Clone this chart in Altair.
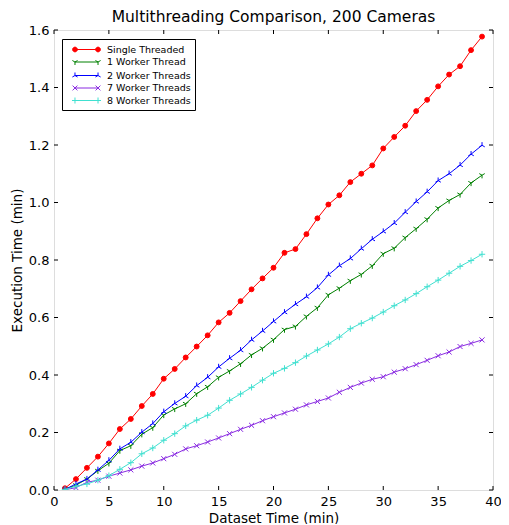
import math
import altair as alt
import pandas as pd

# ---- data ----
dataset_time = [1, 2, 3, 4, 5, 6, 7, 8, 9, 10, 11, 12, 13, 14, 15, 16, 17, 18, 19, 20,
                21, 22, 23, 24, 25, 26, 27, 28, 29, 30, 31, 32, 33, 34, 35, 36, 37, 38, 39]

single_threaded = [0.006, 0.038, 0.077, 0.116, 0.162, 0.212, 0.247, 0.292, 0.334, 0.387,
                   0.421, 0.461, 0.499, 0.538, 0.583, 0.616, 0.657, 0.698, 0.736, 0.773,
                   0.825, 0.838, 0.890, 0.945, 0.993, 1.025, 1.071, 1.100, 1.129, 1.188,
                   1.228, 1.267, 1.318, 1.357, 1.404, 1.445, 1.474, 1.530, 1.577]
one_worker = [0.003, 0.017, 0.038, 0.067, 0.093, 0.137, 0.154, 0.194, 0.217, 0.261,
              0.282, 0.300, 0.335, 0.359, 0.392, 0.414, 0.439, 0.470, 0.493, 0.523,
              0.558, 0.569, 0.604, 0.634, 0.679, 0.702, 0.728, 0.750, 0.780, 0.822,
              0.841, 0.878, 0.909, 0.942, 0.981, 1.007, 1.028, 1.068, 1.095]
two_workers = [0.002, 0.021, 0.038, 0.070, 0.103, 0.143, 0.166, 0.201, 0.231, 0.272,
               0.301, 0.326, 0.363, 0.392, 0.428, 0.458, 0.486, 0.522, 0.553, 0.586,
               0.618, 0.646, 0.672, 0.704, 0.748, 0.780, 0.805, 0.839, 0.872, 0.899,
               0.928, 0.966, 1.003, 1.037, 1.076, 1.100, 1.130, 1.168, 1.199]
seven_workers = [0.001, 0.008, 0.027, 0.034, 0.048, 0.059, 0.070, 0.083, 0.094, 0.109,
                 0.124, 0.143, 0.154, 0.167, 0.181, 0.196, 0.211, 0.225, 0.241, 0.255,
                 0.268, 0.281, 0.296, 0.308, 0.320, 0.340, 0.357, 0.372, 0.385, 0.394,
                 0.410, 0.422, 0.436, 0.451, 0.467, 0.480, 0.499, 0.510, 0.522]
eight_workers = [0.002, 0.013, 0.021, 0.034, 0.050, 0.072, 0.095, 0.126, 0.146, 0.173,
                 0.196, 0.223, 0.243, 0.260, 0.285, 0.312, 0.334, 0.357, 0.382, 0.406,
                 0.423, 0.443, 0.466, 0.487, 0.508, 0.532, 0.561, 0.580, 0.598, 0.619,
                 0.641, 0.661, 0.683, 0.707, 0.730, 0.754, 0.778, 0.798, 0.820]

series_names = ["Single Threaded", "1 Worker Thread", "2 Worker Threads",
                "7 Worker Threads", "8 Worker Threads"]
series_values = [single_threaded, one_worker, two_workers, seven_workers, eight_workers]
series_colors = ["#ff0000", "#008000", "#0000ff", "#8a2be2", "#40e0d0"]

x_ticks = [0, 5, 10, 15, 20, 25, 30, 35, 40]
y_ticks = [0.0, 0.2, 0.4, 0.6, 0.8, 1.0, 1.2, 1.4, 1.6]

# ---- marker shapes (unit-square SVG paths) ----
def poly_circle(cx, r, n=12):
    pts = [(cx + r * math.cos(2 * math.pi * k / n), r * math.sin(2 * math.pi * k / n)) for k in range(n)]
    return "M" + "L".join(f"{a:.3f},{b:.3f}" for a, b in pts) + "Z"

def tri_down(cx, r):
    return (f"M{cx},0L{cx},{r}M{cx},0L{cx - 0.866 * r:.3f},{-0.5 * r:.3f}"
            f"M{cx},0L{cx + 0.866 * r:.3f},{-0.5 * r:.3f}")

def tri_up(cx, r):
    return (f"M{cx},0L{cx},{-r}M{cx},0L{cx - 0.866 * r:.3f},{0.5 * r:.3f}"
            f"M{cx},0L{cx + 0.866 * r:.3f},{0.5 * r:.3f}")

def cross_x(cx, r):
    return f"M{cx - r:.3f},{-r:.3f}L{cx + r:.3f},{r:.3f}M{cx - r:.3f},{r:.3f}L{cx + r:.3f},{-r:.3f}"

def plus(cx, r):
    return f"M{cx - r:.3f},0L{cx + r:.3f},0M{cx},{-r:.3f}L{cx},{r:.3f}"

plot_shapes = ["circle", tri_down(0, 1), tri_up(0, 1), cross_x(0, 0.8), plus(0, 1)]
plot_sizes = [24, 40, 40, 40, 40]

L = 1.92
mr = 0.5
legend_line = f"M{-L},0L{L},0"
legend_shapes = [
    legend_line + poly_circle(-L, mr * 0.8) + poly_circle(L, mr * 0.8),
    legend_line + tri_down(-L, mr) + tri_down(L, mr),
    legend_line + tri_up(-L, mr) + tri_up(L, mr),
    legend_line + cross_x(-L, mr * 0.8) + cross_x(L, mr * 0.8),
    legend_line + plus(-L, mr) + plus(L, mr),
]
legend_fills = ["#ff0000", "transparent", "transparent", "transparent", "transparent"]

# ---- tables ----
rows = []
for name, vals in zip(series_names, series_values):
    for t, v in zip(dataset_time, vals):
        rows.append({"series": name, "t": t, "v": v})
df = pd.DataFrame(rows)

FONT = "DejaVu Sans"
x_scale = alt.Scale(domain=[0, 40], nice=False, zero=False)
y_scale = alt.Scale(domain=[0, 1.6], nice=False, zero=False)
stroke_scale = alt.Scale(domain=series_names, range=series_colors)
fill_scale = alt.Scale(domain=series_names, range=legend_fills)

x_enc = alt.X("t:Q", scale=x_scale,
              axis=alt.Axis(values=x_ticks, title="Dataset Time (min)", tickSize=0,
                            labelPadding=5, domain=False, grid=False, labelFontSize=13,
                            titleFontSize=13.5, titleFontWeight="normal", titlePadding=3,
                            labelFont=FONT, titleFont=FONT, labelColor="black",
                            titleColor="black", labelFlush=False))
y_enc = alt.Y("v:Q", scale=y_scale,
              axis=alt.Axis(values=y_ticks, format=".1f", title="Execution Time (min)",
                            tickSize=0, labelPadding=5, domain=False, grid=False,
                            labelFontSize=13, titleFontSize=13.5, titleFontWeight="normal",
                            titlePadding=4, labelFont=FONT, titleFont=FONT,
                            labelColor="black", titleColor="black", labelFlush=False))

legend_layer = alt.Chart(df).transform_filter("false").mark_point(
    filled=False, opacity=1, strokeWidth=1).encode(
    x=x_enc, y=y_enc,
    stroke=alt.Stroke("series:N", scale=stroke_scale,
                      legend=alt.Legend(title=None, orient="none", legendX=8, legendY=9,
                                        padding=4, strokeColor="black", fillColor="white",
                                        symbolSize=144, symbolStrokeWidth=1,
                                        symbolOffset=14, labelOffset=14, labelFontSize=9.5,
                                        labelFont=FONT, labelColor="black", rowPadding=1.5,
                                        labelExpr="datum.label + '       '")),
    fill=alt.Fill("series:N", scale=fill_scale,
                  legend=alt.Legend(title=None, orient="none", legendX=8, legendY=9)),
    shape=alt.Shape("series:N", scale=alt.Scale(domain=series_names, range=legend_shapes),
                    legend=alt.Legend(title=None, orient="none", legendX=8, legendY=9)),
)

layers = [legend_layer]
for i, name in enumerate(series_names):
    sub = alt.Chart(df).transform_filter(alt.datum.series == name)
    line = sub.mark_line(strokeWidth=1, opacity=1, clip=True).encode(
        x=x_enc, y=y_enc,
        stroke=alt.Stroke("series:N", scale=stroke_scale, legend=None),
    )
    enc = dict(x="t:Q", y="v:Q",
               stroke=alt.Stroke("series:N", scale=stroke_scale, legend=None))
    if plot_shapes[i] == "circle":
        enc["fill"] = alt.Fill("series:N", scale=fill_scale, legend=None)
    pts = sub.mark_point(shape=plot_shapes[i], size=plot_sizes[i], filled=False,
                         opacity=1, strokeWidth=1, clip=True).encode(**enc)
    layers += [line, pts]

# inward ticks on all four sides
xt = pd.DataFrame({"t": x_ticks})
yt = pd.DataFrame({"v": y_ticks})
tick_len = 4
H = 460
W = 439
xt_bottom = alt.Chart(xt).mark_rule(color="black", strokeWidth=1).encode(
    x="t:Q", y=alt.value(H), y2=alt.value(H - tick_len))
xt_top = alt.Chart(xt).mark_rule(color="black", strokeWidth=1).encode(
    x="t:Q", y=alt.value(0), y2=alt.value(tick_len))
yt_left = alt.Chart(yt).mark_rule(color="black", strokeWidth=1).encode(
    y="v:Q", x=alt.value(0), x2=alt.value(tick_len))
yt_right = alt.Chart(yt).mark_rule(color="black", strokeWidth=1).encode(
    y="v:Q", x=alt.value(W), x2=alt.value(W - tick_len))

chart = alt.layer(*layers, xt_bottom, xt_top, yt_left, yt_right).properties(
    width=W, height=H,
    title=alt.TitleParams("Multithreading Comparison, 200 Cameras", fontSize=15.5,
                          font=FONT, fontWeight="normal", color="black", offset=-1,
                          anchor="middle"),
    padding={"left": 46, "top": 22, "right": 8, "bottom": 34},
    autosize=alt.AutoSizeParams(type="none"),
).configure_view(stroke="black", strokeWidth=1).configure(background="white")

chart.save("out.html", embed_options={"renderer": "svg", "actions": False})
